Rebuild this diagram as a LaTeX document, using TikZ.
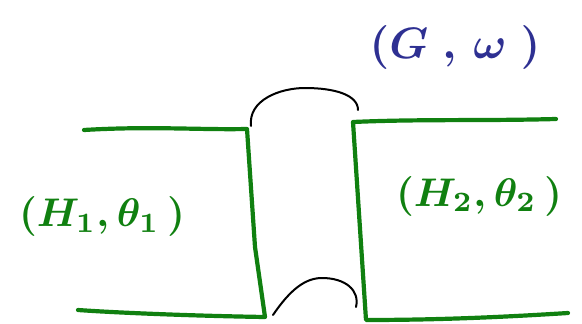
\documentclass[tikz,border=0pt]{standalone}
\usepackage{graphicx}
\usepackage{xcolor}
\definecolor{pgreen}{RGB}{16,128,16}
\definecolor{pblue}{RGB}{46,48,146}
\newcommand{\biglbl}[1]{\scalebox{4}{\boldmath$#1$}}
\begin{document}
\begin{tikzpicture}[x=1pt,y=-1pt,
  gline/.style={draw=pgreen,line width=4.2pt,line cap=round,line join=round},
  bline/.style={draw=black,line width=2pt,line cap=round},
  lbl/.style={inner sep=0pt}]
\useasboundingbox (0,0) rectangle (582,324);
% left region
\coordinate (l1) at (84,130);
\coordinate (l2) at (247,129);
\coordinate (l3) at (255,247);
\coordinate (l4) at (265,317);
\coordinate (l5) at (78,310);
\draw[gline] (l1) .. controls (150,126) and (200,130) .. (l2) -- (l3) -- (l4) .. controls (200,316) and (120,313) .. (l5);
% right region
\coordinate (r1) at (556,119);
\coordinate (r2) at (353,122);
\coordinate (r3) at (366,320);
\coordinate (r4) at (568,313);
\draw[gline] (r1) .. controls (480,121) and (420,119) .. (r2) -- (r3) .. controls (450,320) and (520,316) .. (r4);
% black arcs
\coordinate (t1) at (251,126);
\coordinate (t2) at (358,110);
\draw[bline] (t1) .. controls (248,100) and (280,88) .. (305,88) .. controls (335,88) and (358,95) .. (t2);
\coordinate (b1) at (273,315);
\coordinate (b2) at (356,307);
\draw[bline] (b1) .. controls (290,290) and (305,278) .. (322,278) .. controls (345,278) and (360,290) .. (b2);
% labels
\node[lbl,text=pblue] (g) at (455,48) {\scalebox{1.1}{\biglbl{(G\;,\,\omega\;)}}};
\node[lbl,text=pgreen] (h1) at (102,216) {\biglbl{(H_1,\theta_1\,)}};
\node[lbl,text=pgreen] (h2) at (479,196) {\biglbl{(H_2,\theta_2\,)}};
\end{tikzpicture}
\end{document}
